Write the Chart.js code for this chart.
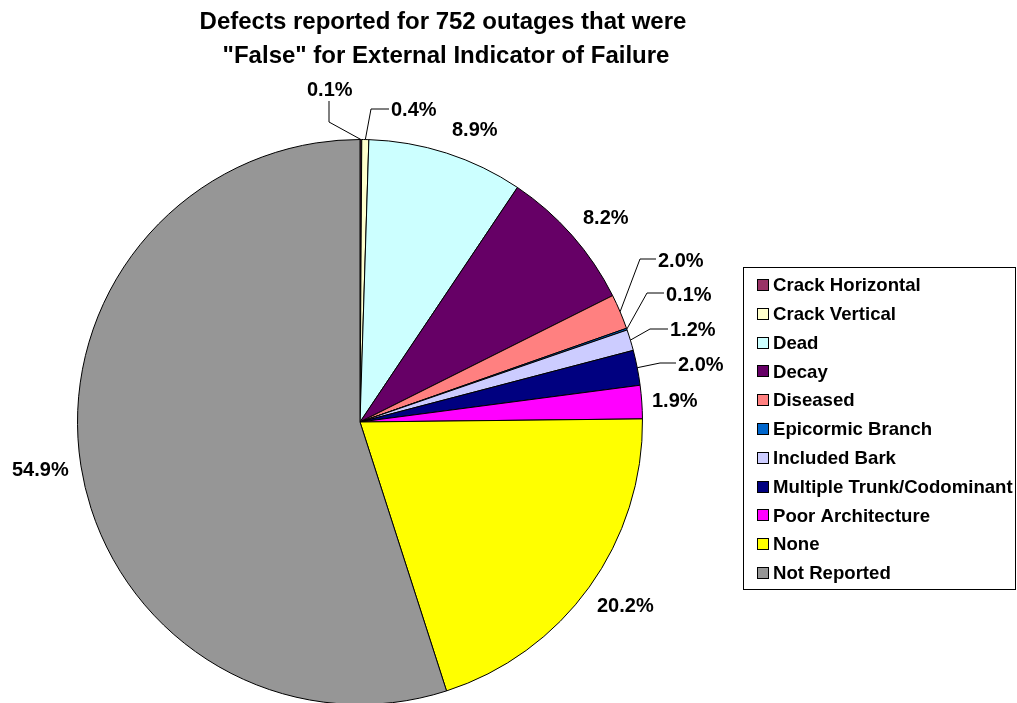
<!DOCTYPE html>
<html>
<head>
<meta charset="utf-8">
<script src="https://cdn.jsdelivr.net/npm/chart.js@4/dist/chart.umd.min.js"></script>
<style>
  body { margin: 0; background: #fff; }
  #wrap { width: 1017px; height: 703px; overflow: hidden; }
</style>
</head>
<body>
<div id="wrap"><canvas id="pie" width="1017" height="720"></canvas></div>
<script>
const titleLines = ['Defects reported for 752 outages that were', '"False" for External Indicator of Failure']

const defects = [
    'Crack Horizontal', 'Crack Vertical', 'Dead', 'Decay', 'Diseased', 'Epicormic Branch',
    'Included Bark', 'Multiple Trunk/Codominant', 'Poor Architecture', 'None', 'Not Reported'
]
const percents = [0.1, 0.4, 8.9, 8.2, 2.0, 0.1, 1.2, 2.0, 1.9, 20.2, 54.9]
const colors = [
    '#993366', '#FFFFCC', '#CCFFFF', '#660066', '#FF8080', '#0066CC',
    '#CCCCFF', '#000080', '#FF00FF', '#FFFF00', '#969696'
]

// where each percent label sits (left edge, middle), and the bend of its leader line if any
const labelSpots = [
    { x: 307, y: 90, bend: [[329, 122], [329, 101]] },
    { x: 391, y: 110, bend: [[371, 109], [389, 109]] },
    { x: 452, y: 130 },
    { x: 583, y: 218 },
    { x: 658, y: 261, bend: [[640, 259], [656, 259]] },
    { x: 666, y: 295, bend: [[647, 293], [664, 293]] },
    { x: 670, y: 330, bend: [[650, 329], [668, 329]] },
    { x: 678, y: 365, bend: [[660, 363], [676, 363]] },
    { x: 652, y: 401 },
    { x: 597, y: 606 },
    { x: 12, y: 470 }
]

const FONT = '"Liberation Sans", Arial, sans-serif'

const decorations = {
    id: 'decorations',
    afterDatasetsDraw(chart) {
        const ctx = chart.ctx
        const arcs = chart.getDatasetMeta(0).data
        const values = chart.data.datasets[0].data

        ctx.save()
        // title
        ctx.fillStyle = '#000'
        ctx.font = 'bold 24px ' + FONT
        ctx.textAlign = 'center'
        ctx.textBaseline = 'alphabetic'
        ctx.fillText(titleLines[0], 443, 29)
        ctx.fillText(titleLines[1], 446, 63)

        // percent labels + leader lines
        ctx.font = 'bold 20px ' + FONT
        ctx.textAlign = 'left'
        ctx.textBaseline = 'middle'
        arcs.forEach((arc, i) => {
            const spot = labelSpots[i]
            const { x, y, startAngle, endAngle, outerRadius } = arc.getProps(['x', 'y', 'startAngle', 'endAngle', 'outerRadius'], true)
            if (spot.bend) {
                const mid = (startAngle + endAngle) / 2
                ctx.beginPath()
                ctx.moveTo(x + Math.cos(mid) * outerRadius, y + Math.sin(mid) * outerRadius)
                spot.bend.forEach(p => ctx.lineTo(p[0], p[1]))
                ctx.strokeStyle = '#000'
                ctx.lineWidth = 1
                ctx.stroke()
            }
            ctx.fillText(values[i].toFixed(1) + '%', spot.x, spot.y)
        })

        // legend box
        ctx.strokeStyle = '#000'
        ctx.lineWidth = 1
        ctx.strokeRect(743.5, 267.5, 272, 322)
        ctx.font = 'bold 18.6px ' + FONT
        chart.data.labels.forEach((name, i) => {
            const rowY = 285 + i * 28.8
            const top = Math.round(rowY) - 6
            ctx.fillStyle = colors[i]
            ctx.fillRect(757, top, 12, 12)
            ctx.strokeRect(757.5, top + 0.5, 11, 11)
            ctx.fillStyle = '#000'
            ctx.fillText(name, 773, rowY + 1)
        })
        ctx.restore()
    }
}

new Chart(document.querySelector('#pie'), {
    type: 'pie',
    data: {
        labels: defects,
        datasets: [{
            data: percents,
            backgroundColor: colors,
            borderColor: '#000',
            borderWidth: 1
        }]
    },
    options: {
        responsive: false,
        animation: false,
        devicePixelRatio: 1,
        layout: { padding: { left: 77, top: 139, right: 374, bottom: 15 } },
        plugins: {
            legend: { display: false },
            title: { display: false },
            tooltip: { enabled: false }
        }
    },
    plugins: [decorations]
})
</script>
</body>
</html>
